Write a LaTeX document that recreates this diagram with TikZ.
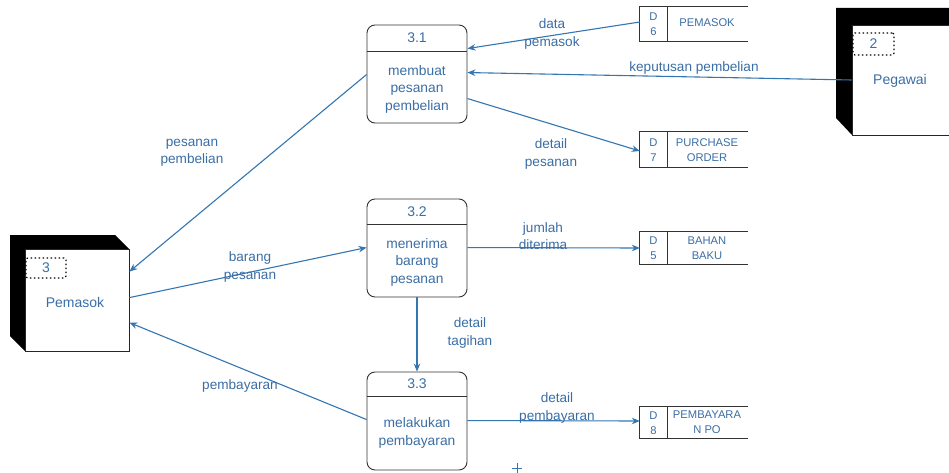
\documentclass[tikz,border=0pt]{standalone}
\usepackage{fontspec}
\setmainfont{Liberation Sans}
\usetikzlibrary{arrows.meta}
\definecolor{txtblue}{RGB}{59,110,165}
\definecolor{lineblue}{RGB}{52,118,178}
\tikzset{
  procbox/.style={draw=black!80, line width=0.9pt, rounded corners=8pt,
    minimum width=100pt, minimum height=98pt, inner sep=0pt},
  ptitle/.style={text=txtblue, font=\fontsize{14}{17}\selectfont},
  pbody/.style={text=txtblue, font=\fontsize{13.8}{17.5}\selectfont, align=center},
  storearea/.style={minimum width=108pt, inner sep=0pt},
  storeline/.style={draw=black!80, line width=0.9pt},
  storetxt/.style={text=txtblue, font=\fontsize{11.2}{15}\selectfont, align=center},
  entfront/.style={draw=black!85, fill=white, line width=0.8pt, inner sep=0pt},
  entname/.style={text=txtblue, font=\fontsize{14}{17}\selectfont},
  entid/.style={draw=black, line width=1.2pt, dash pattern=on 1.5pt off 2.5pt,
    rounded corners=2pt, text=txtblue, font=\fontsize{14}{17}\selectfont, inner sep=0pt},
  flow/.style={draw=lineblue, line width=1.1pt, -{Stealth[length=8pt,width=6.5pt]}},
  flowlbl/.style={text=txtblue, font=\fontsize{13.6}{17.5}\selectfont, align=center},
}
\begin{document}
\begin{tikzpicture}[x=1pt,y=-1pt]
\useasboundingbox (0,0) rectangle (949,473);
\clip (0,0) rectangle (949,473);
\fill[white] (0,0) rectangle (949,473);

% ---- external entity: Pemasok ----
\fill[black] (10,235) -- (115,235) -- (129,249) -- (25,249) -- (25,351) -- (10,336) -- cycle;
\node[entfront, minimum width=104pt, minimum height=102pt] (pem) at (77,300) {};
\node[entid, minimum width=40pt, minimum height=20pt] (pemid) at (46,268) {3};
\node[entname] (pemname) at (75,302) {Pemasok};

% ---- external entity: Pegawai ----
\fill[black] (836,8) -- (965,8) -- (965,25) -- (852,25) -- (852,135) -- (836,118) -- cycle;
\node[entfront, minimum width=113pt, minimum height=110pt] (peg) at (908.5,80) {};
\node[entid, minimum width=41pt, minimum height=22pt] (pegid) at (873.5,44) {2};
\node[entname] (pegname) at (900,81) {Pegawai};

% ---- processes ----
\node[procbox] (p31) at (417,74) {};
\draw[black!80, line width=0.9pt] (p31.west |- 0,51) -- (p31.east |- 0,51);
\node[ptitle] (p31t) at (417,38) {3.1};
\node[pbody] (p31b) at (417,89) {membuat\\pesanan\\pembelian};

\node[procbox] (p32) at (417,248) {};
\draw[black!80, line width=0.9pt] (p32.west |- 0,224) -- (p32.east |- 0,224);
\node[ptitle] (p32t) at (417,212) {3.2};
\node[pbody] (p32b) at (417,262) {menerima\\barang\\pesanan};

\node[procbox] (p33) at (417,421) {};
\draw[black!80, line width=0.9pt] (p33.west |- 0,396) -- (p33.east |- 0,396);
\node[ptitle] (p33t) at (417,384) {3.3};
\node[pbody] (p33b) at (417,433) {melakukan\\pembayaran};

% ---- data stores ----
\node[storearea, minimum height=34pt] (d6) at (694,24) {};
\draw[storeline] (d6.north east) -- (d6.north west) -- (d6.south west) -- (d6.south east);
\draw[storeline] (667,7) -- (667,41);
\node[storetxt] (d6id) at (653.5,24) {D\\6};
\node[storetxt] (d6n) at (707,23) {PEMASOK};

\node[storearea, minimum height=35pt] (d7) at (694,149.5) {};
\draw[storeline] (d7.north east) -- (d7.north west) -- (d7.south west) -- (d7.south east);
\draw[storeline] (667,132) -- (667,167);
\node[storetxt] (d7id) at (653.5,150) {D\\7};
\node[storetxt] (d7n) at (707,150) {PURCHASE\\ORDER};

\node[storearea, minimum height=32pt] (d5) at (694,248) {};
\draw[storeline] (d5.north east) -- (d5.north west) -- (d5.south west) -- (d5.south east);
\draw[storeline] (667,232) -- (667,264);
\node[storetxt] (d5id) at (653.5,248) {D\\5};
\node[storetxt] (d5n) at (707,248) {BAHAN\\BAKU};

\node[storearea, minimum height=31pt] (d8) at (694,422.5) {};
\draw[storeline] (d8.north east) -- (d8.north west) -- (d8.south west) -- (d8.south east);
\draw[storeline] (667,407) -- (667,438);
\node[storetxt] (d8id) at (653.5,423) {D\\8};
\node[storetxt] (d8n) at (707,422) {PEMBAYARA\\N PO};

% ---- data flows ----
\draw[flow] ([yshift=2pt]d6.west) -- ([yshift=-24pt]p31.north east);
\draw[flow] (peg.west) -- ([yshift=-48pt]p31.north east);
\draw[flow] ([yshift=-74pt]p31.north east) -- ([yshift=-1.5pt]d7.west);
\draw[flow] ([yshift=-50pt]p31.north west) -- ([yshift=-23pt]pem.north east);
\draw[flow] ([yshift=-49pt]pem.north east) -- ([yshift=-49pt]p32.north west);
\draw[flow] ([yshift=-49pt]p32.north east) -- (d5.west);
\draw[flow] (p32.south) -- (p33.north);
\draw[flow] ([yshift=-48pt]p33.north west) -- ([yshift=-74pt]pem.north east);
\draw[flow] ([yshift=-49pt]p33.north east) -- ([yshift=1.5pt]d8.west);

% ---- flow labels ----
\node[flowlbl] (l1) at (552,34) {data\\pemasok};
\node[flowlbl] (l2) at (694,68) {keputusan pembelian};
\node[flowlbl] (l3) at (551,154) {detail\\pesanan};
\node[flowlbl] (l4) at (192,153) {pesanan\\pembelian};
\node[flowlbl] (l5) at (250,267) {barang\\pesanan};
\node[flowlbl] (l6) at (543,236) {jumlah\\diterima};
\node[flowlbl] (l7) at (470,333) {detail\\tagihan};
\node[flowlbl] (l8) at (240,386) {pembayaran};
\node[flowlbl] (l9) at (557,408) {detail\\pembayaran};

% ---- small cross mark ----
\draw[lineblue, line width=0.9pt] (512,468) -- (522,468) (517,463) -- (517,474);
\end{tikzpicture}
\end{document}
